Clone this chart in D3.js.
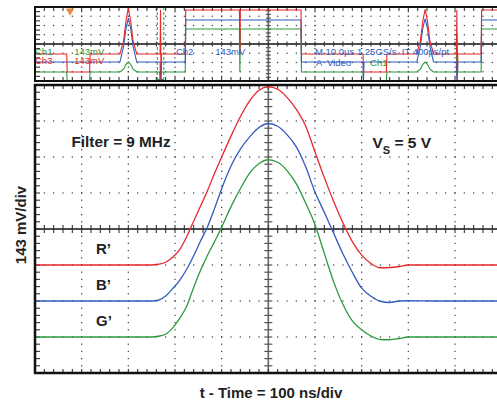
<!DOCTYPE html>
<html>
<head>
<meta charset="utf-8">
<script src="https://d3js.org/d3.v7.min.js"></script>
<style>
  body { margin: 0; background: #fff; }
  svg { display: block; }
  text { font-family: "Liberation Sans", Arial, sans-serif; }
</style>
</head>
<body>
<div id="graph"></div>
<script>

// ---- main window data: time in ns (100 ns/div), amplitude in mV (143 mV/div)
var timeNs = [-500, -300, -250, -236, -220, -205, -190, -175, -160, -145, -130, -115, -100, -80, -60, -40, -20,
              0, 20, 40, 60, 80, 100, 120, 140, 160, 180, 200, 220, 240, 260, 280, 300, 350, 500];
var redMv   = [-143, -143, -143, -140, -132, -112, -82, -31, 31, 92, 154, 222, 286, 369, 446, 509, 551,
               565, 555, 523, 475, 409, 306, 204, 109, 24, -50, -104, -137, -154, -153, -149, -143, -143, -143];
var blueMv  = [-286, -286, -286, -283, -266, -237, -204, -160, -106, -47, 10, 83, 160, 250, 317, 366, 403,
               419, 408, 375, 326, 247, 147, 66, -17, -99, -172, -235, -267, -287, -292, -286, -285, -286, -286];
var greenMv = [-429, -429, -429, -426, -418, -393, -355, -307, -232, -163, -103, -49, 7, 89, 160, 222, 260,
               275, 265, 232, 179, 103, 17, -97, -210, -300, -365, -400, -425, -439, -440, -435, -429, -429, -429];

var seriesNames = ["R\u2019", "B\u2019", "G\u2019"];
var seriesColors = ["#e8262a", "#2f5cc0", "#2b9a3c"];

// ---- overview window (video line): time in us (10 us/div), level in divisions
var ovRed = [[-50, -1.08], [-43.2, -1.08], [-43.1, -3.03], [-38.3, -3.03], [-38.2, -1.08], [-31.8, -1.08],
             [-31.0, 0.4], [-30.5, 2.5], [-30.0, 3.9], [-29.5, 2.5], [-29.0, 0.4], [-28.2, -1.08],
             [-23.2, -1.08], [-23.1, 3.7], [-23.0, -4], [-22.9, -1.08], [-17.8, -1.08], [-17.7, 3.68],
             [-6.2, 3.68], [-6.1, -1.08], [-6.0, 3.68], [7.0, 3.68], [7.1, -1.08], [20.3, -1.08],
             [20.4, -3.03], [25.3, -3.03], [25.4, -1.08], [31.8, -1.08], [32.6, 0.4], [33.1, 2.5],
             [33.6, 3.75], [34.1, 2.5], [34.6, 0.4], [35.4, -1.08], [40.3, -1.08], [40.4, 3.68],
             [40.5, -4], [40.6, -1.08], [45.6, -1.08], [45.7, 3.68], [50, 3.68]];
var ovBlue = [[-50, -1.95], [-31.8, -1.95], [-31.0, -0.2], [-30.5, 1.7], [-30.0, 2.8], [-29.5, 1.7],
              [-29.0, -0.2], [-28.2, -1.95], [-23.2, -1.95], [-23.1, -3.9], [-22.9, -1.95], [-17.8, -1.95],
              [-17.7, 2.6], [7.0, 2.6], [7.1, -1.95], [20.3, -1.95], [20.4, -3.9], [20.5, -1.95],
              [31.8, -1.95], [32.6, -0.2], [33.1, 1.7], [33.6, 2.75], [34.1, 1.7], [34.6, -0.2],
              [35.4, -1.95], [40.3, -1.95], [40.4, -3.9], [40.6, -1.95], [45.6, -1.95], [45.7, 2.6], [50, 2.6]];
var ovGreen = [[-50, -3.03], [-43.2, -3.03], [-43.1, -4], [-38.3, -4], [-38.2, -3.03], [-31.8, -3.03],
               [-31.0, -2.7], [-30.5, -2.2], [-30.0, -1.95], [-29.5, -2.2], [-29.0, -2.7], [-28.2, -3.03],
               [-23.3, -3.03], [-23.2, -4], [-23.0, -3.03], [-17.8, -3.03], [-17.7, 1.62], [-6.2, 1.62],
               [-6.1, -3.03], [-6.0, 1.62], [7.0, 1.62], [7.1, -3.03], [20.3, -3.03], [20.4, -4],
               [25.3, -4], [25.4, -3.03], [31.8, -3.03], [32.6, -2.7], [33.1, -2.2], [33.6, -1.95],
               [34.1, -2.2], [34.6, -2.7], [35.4, -3.03], [40.3, -3.03], [40.4, 1.2], [40.6, -3.03],
               [45.6, -3.03], [45.7, 1.62], [50, 1.62]];
var ovCursors = [-23.8, -22.4];
var ovTrigger = -42.5;

// scope readout labels: [text, time us, level div, color]
var readouts = [
  ["Ch1", -50, -1.15, "#2b9a3c"], ["143mV", -41.6, -1.15, "#2b9a3c"],
  ["Ch3", -50, -2.2, "#e8262a"], ["143mV", -41.6, -2.2, "#e8262a"],
  ["Ch2", -19.8, -1.15, "#2f5cc0"], ["143mV", -11.4, -1.15, "#2f5cc0"],
  ["M 10.0\u00b5s 1.25GS/s  IT 400ps/pt", 10, -1.15, "#2f5cc0"],
  ["A  Video", 10.2, -2.35, "#2f5cc0"], ["Ch1", 21.8, -2.35, "#2b9a3c"]
];

var W = 497, H = 402;
var svg = d3.select("#graph").append("svg")
            .attr("width", W)
            .attr("height", H);

// scales
var x = d3.scaleLinear().domain([-500, 500]).range([35, 501.67]);
var y = d3.scaleLinear().domain([-572, 572]).range([373, 85]);
var ovX = d3.scaleLinear().domain([-50, 50]).range([35, 501.67]);
var ovY = d3.scaleLinear().domain([-4, 4]).range([81, 7]);

var defs = svg.append("defs");
defs.append("clipPath").attr("id", "clipMain")
    .append("rect").attr("x", 35).attr("y", 85).attr("width", W - 35).attr("height", 288);
defs.append("clipPath").attr("id", "clipOv")
    .append("rect").attr("x", 35).attr("y", 7).attr("width", W - 35).attr("height", 74);

// draws a scope graticule: dotted divisions, centre cross with ticks, border ticks
function graticule(g, sx, sy, xMajor, xMinor, yMajor, yMinor, yDots, leftTicks, tickLen) {
  var x0 = sx.domain()[0], y0 = sy.domain()[0], y1 = sy.domain()[1];
  var dots = [];
  xMajor.filter(v => v != x0 && v != 0).forEach(function(xv) {
    yDots.forEach(function(yv) { dots.push([sx(xv), sy(yv)]); });
  });
  yMajor.filter(v => v != y0 && v != y1 && v != 0).forEach(function(yv) {
    xMinor.forEach(function(xv) { dots.push([sx(xv), sy(yv)]); });
  });
  g.append("g").selectAll("rect").data(dots).enter().append("rect")
    .attr("x", d => d[0] - 0.6).attr("y", d => d[1] - 0.6)
    .attr("width", 1.2).attr("height", 1.2)
    .attr("fill", "#333");

  // centre cross
  g.append("line").attr("x1", sx(0)).attr("x2", sx(0))
    .attr("y1", sy(y1)).attr("y2", sy(y0))
    .attr("stroke", "#666").attr("stroke-width", 1.6);
  g.append("line").attr("x1", sx(x0)).attr("x2", W)
    .attr("y1", sy(0)).attr("y2", sy(0))
    .attr("stroke", "#111").attr("stroke-width", 1.6);
  g.append("g").selectAll("line").data(yMinor).enter().append("line")
    .attr("x1", sx(0) - tickLen).attr("x2", sx(0) + tickLen)
    .attr("y1", d => sy(d)).attr("y2", d => sy(d))
    .attr("stroke", "#555").attr("stroke-width", 1.2);
  g.append("g").selectAll("line").data(xMinor).enter().append("line")
    .attr("x1", d => sx(d)).attr("x2", d => sx(d))
    .attr("y1", sy(0) - tickLen).attr("y2", sy(0) + tickLen)
    .attr("stroke", "#333").attr("stroke-width", 1.1);

  // border ticks
  g.append("g").selectAll("line").data(leftTicks).enter().append("line")
    .attr("x1", sx(x0)).attr("x2", sx(x0) + 5)
    .attr("y1", d => sy(d)).attr("y2", d => sy(d))
    .attr("stroke", "#333").attr("stroke-width", 1.1);
  g.append("g").selectAll("line").data(xMinor).enter().append("line")
    .attr("x1", d => sx(d)).attr("x2", d => sx(d))
    .attr("y1", sy(y0)).attr("y2", sy(y0) - 4)
    .attr("stroke", "#333").attr("stroke-width", 1.1);
  g.append("g").selectAll("line").data(xMinor).enter().append("line")
    .attr("x1", d => sx(d)).attr("x2", d => sx(d))
    .attr("y1", sy(y1)).attr("y2", sy(y1) + 4)
    .attr("stroke", "#333").attr("stroke-width", 1.1);
}

// ---- overview window
var ov = svg.append("g");
graticule(ov, ovX, ovY,
          d3.range(-50, 51, 10), d3.range(-50, 51, 2),
          d3.range(-4, 5, 1), d3.range(-4, 4.01, 0.4),
          d3.range(-4, 4.01, 0.5), d3.range(-4, 4.01, 0.5), 2.5);

var ovLine = d3.line().x(d => ovX(d[0])).y(d => ovY(d[1]));
var ovTraces = ov.append("g").attr("clip-path", "url(#clipOv)");

// cursors and trigger marker
ovTraces.selectAll(".cursor").data(ovCursors).enter().append("line")
  .attr("class", "cursor")
  .attr("x1", d => ovX(d)).attr("x2", d => ovX(d))
  .attr("y1", ovY(4)).attr("y2", ovY(-4))
  .attr("stroke", "#2b9a3c").attr("stroke-width", 1)
  .attr("stroke-dasharray", "3,2");
ovTraces.append("ellipse")
  .attr("cx", ovX(d3.mean(ovCursors))).attr("cy", ovY(-4))
  .attr("rx", 4).attr("ry", 2.5)
  .attr("fill", "#2b9a3c");

[ovGreen, ovBlue, ovRed].forEach(function(tr, i) {
  ovTraces.append("path")
    .datum(tr)
    .attr("fill", "none")
    .attr("stroke", [seriesColors[2], seriesColors[1], seriesColors[0]][i])
    .attr("stroke-width", 1.1)
    .attr("d", ovLine);
});

ov.append("path")
  .attr("d", d3.symbol().type(d3.symbolTriangle).size(30)())
  .attr("transform", "translate(" + ovX(ovTrigger) + "," + (ovY(4) + 4) + ") rotate(180)")
  .attr("fill", "#f0883a");

ov.selectAll(".readout").data(readouts).enter().append("text")
  .attr("class", "readout")
  .attr("x", d => ovX(d[1]))
  .attr("y", d => ovY(d[2]))
  .attr("fill", d => d[3])
  .style("font-size", "9.5px")
  .style("white-space", "pre")
  .text(d => d[0]);

// overview frame
ov.append("path")
  .attr("d", "M" + W + "," + ovY(4) + "H" + ovX(-50) + "V" + ovY(-4) + "H" + W)
  .attr("fill", "none").attr("stroke", "#111").attr("stroke-width", 2);

// ---- main window
var main = svg.append("g");
graticule(main, x, y,
          d3.range(-500, 501, 100), d3.range(-500, 501, 20),
          d3.range(-4, 5).map(k => k * 143), d3.range(-20, 21).map(k => k * 143 / 5),
          d3.range(-20, 21).map(k => k * 143 / 5), d3.range(-20, 21).map(k => k * 143 / 5), 4);

var traces = main.append("g").attr("clip-path", "url(#clipMain)");
[redMv, blueMv, greenMv].forEach(function(vals, i) {
  traces.append("path")
    .datum(vals)
    .attr("fill", "none")
    .attr("stroke", seriesColors[i])
    .attr("stroke-width", 1.3)
    .attr("d", d3.line()
      .curve(d3.curveMonotoneX)
      .x((d, j) => x(timeNs[j]))
      .y(d => y(d)));
});

main.append("path")
  .attr("d", "M" + W + "," + y(572) + "H" + x(-500) + "V" + y(-572) + "H" + W)
  .attr("fill", "none").attr("stroke", "#111").attr("stroke-width", 2.5);

// ---- annotations
main.append("text")
  .attr("x", 71.5).attr("y", 146.5)
  .style("font-size", "15.3px").style("font-weight", "bold").attr("fill", "#222")
  .text("Filter = 9 MHz");

var vs = main.append("text")
  .attr("x", 372.5).attr("y", 148.3)
  .style("font-size", "15.5px").style("font-weight", "bold").attr("fill", "#222");
vs.append("tspan").text("V");
vs.append("tspan").attr("dy", 5.5).style("font-size", "11px").text("S");
vs.append("tspan").attr("dy", -5.5).text(" = 5 V");

// series labels placed one division above each baseline
main.selectAll(".slabel").data(seriesNames).enter().append("text")
  .attr("class", "slabel")
  .attr("x", 96)
  .attr("y", (d, i) => y([redMv, blueMv, greenMv][i][0]) - 11)
  .style("font-size", "15px").style("font-weight", "bold").attr("fill", "#222")
  .text(d => d);

svg.append("text")
  .attr("transform", "translate(25.5,225) rotate(-90)")
  .attr("text-anchor", "middle")
  .style("font-size", "15px").style("font-weight", "bold").attr("fill", "#222")
  .text("143 mV/div");

svg.append("text")
  .attr("x", 271).attr("y", 398)
  .attr("text-anchor", "middle")
  .style("font-size", "15px").style("font-weight", "bold").attr("fill", "#222")
  .text("t - Time = 100 ns/div");

</script>
</body>
</html>
